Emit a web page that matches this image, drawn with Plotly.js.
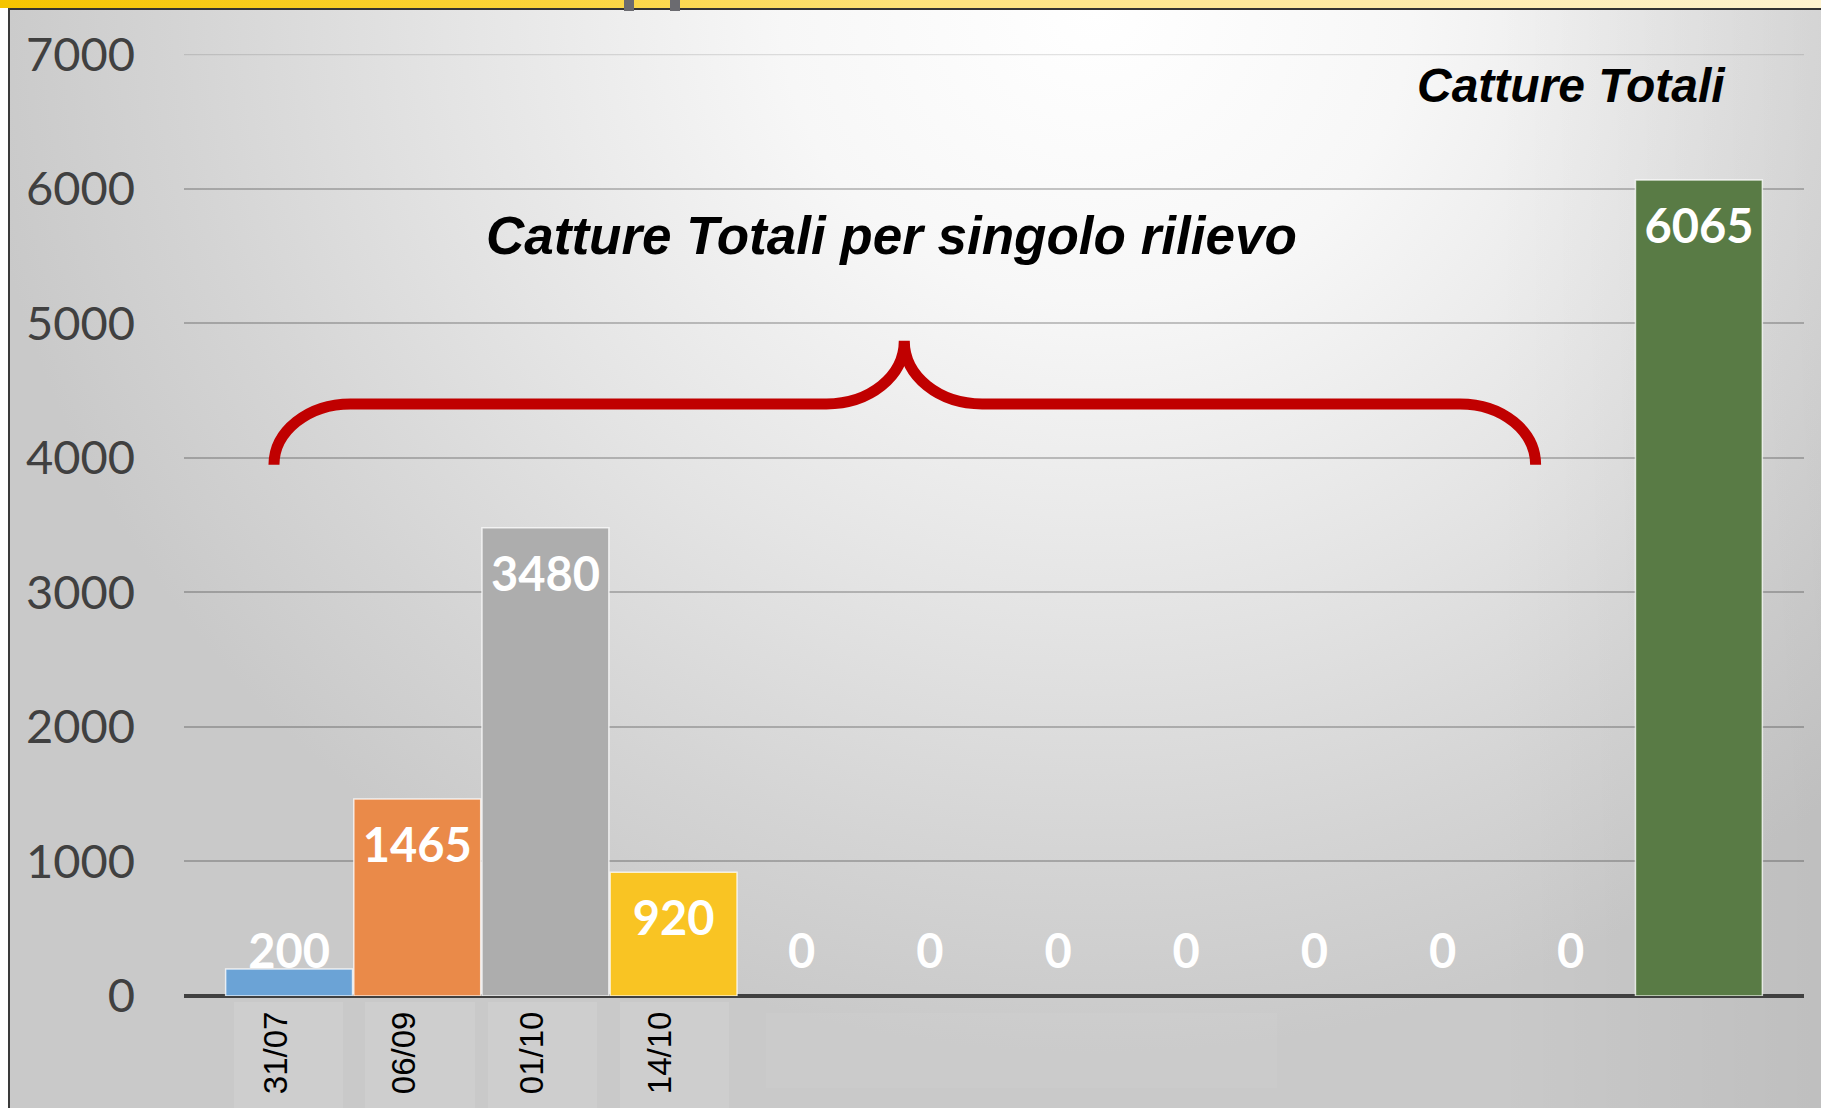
<!DOCTYPE html>
<html>
<head>
<meta charset="utf-8">
<script src="https://cdn.plot.ly/plotly-3.0.1.min.js"></script>
<style>
  html, body { margin: 0; padding: 0; background: #ffffff; }
  #wrap { position: relative; width: 1821px; height: 1108px; overflow: hidden; background: #ffffff; }
  #topbar { position: absolute; left: 0; top: 0; width: 1821px; height: 8px;
    background: linear-gradient(to right, #f5c400 0%, #fbd43a 30%, #fde27a 50%, #fdeaa6 75%, #fef3cf 100%); }
  #bg { position: absolute; left: 9px; top: 9px; width: 1812px; height: 1099px;
    background:
      linear-gradient(to right, rgba(0,0,0,0) 82%, rgba(0,0,0,0.05) 100%),
      radial-gradient(ellipse 62% 95% at 60% 0%, #ffffff 0%, #f7f7f7 28%, #e4e4e4 58%, #d4d4d4 82%, #c9c9c9 100%); }
  #topline { position: absolute; left: 8px; top: 8px; width: 1813px; height: 2px; background: #333333; }
  #leftline { position: absolute; left: 8px; top: 8px; width: 2px; height: 1100px; background: #3a3a3a; }
  .mark { position: absolute; top: 0; width: 10px; height: 11px; background: #6b6b70; }
  #chart { position: absolute; left: 0; top: 0; width: 1821px; height: 1108px; }
</style>
</head>
<body>
<div id="wrap">
  <div id="topbar"></div>
  <div id="bg"></div>
  <div id="topline"></div>
  <div id="leftline"></div>
  <div class="mark" style="left:624px"></div>
  <div class="mark" style="left:670px"></div>
  <div id="chart"></div>
</div>
<script>
// ---- data ----
var categories = ["31/07", "06/09", "01/10", "14/10", "r5", "r6", "r7", "r8", "r9", "r10", "r11", "Totale"];
var catture = [200, 1465, 3480, 920, 0, 0, 0, 0, 0, 0, 0, 6065];
var tickLabels = ["31/07", "06/09", "01/10", "14/10"];
var barColors = ["#6ba3d6", "#ea8a49", "#adadad", "#f9c423", "#cccccc", "#cccccc", "#cccccc", "#cccccc", "#cccccc", "#cccccc", "#cccccc", "#597b45"];
var titleSingolo = "Catture Totali per singolo rilievo";
var titleTotale = "Catture Totali";
var yTicks = [0, 1000, 2000, 3000, 4000, 5000, 6000, 7000];
var yMax = 7000;

// ---- derived ----
var xIdx = categories.map(function (c, i) { return i; });
var tickVals = tickLabels.map(function (t) { return categories.indexOf(t); });
var labelY = catture.map(function (v) { return Math.max(v - 382, 292); });
var labelText = catture.map(function (v) { return String(v); });
var lineW = catture.map(function (v) { return v > 0 ? 1.5 : 0; });

var bars = {
  type: "bar",
  x: xIdx,
  y: catture,
  width: 0.99,
  marker: { color: barColors, line: { color: "rgba(255,255,255,0.75)", width: lineW } },
  hoverinfo: "skip",
  showlegend: false
};

var labels = {
  type: "scatter",
  mode: "text",
  x: xIdx,
  y: labelY,
  text: labelText,
  textposition: "middle center",
  textfont: { family: "Lato, 'Open Sans', sans-serif", size: 47, color: "#ffffff", weight: "bold" },
  cliponaxis: false,
  hoverinfo: "skip",
  showlegend: false
};

// curly brace (decoration) in data coordinates
var bracePath = "M -0.118,3948 C -0.118,4198 0.149,4401 0.479,4401 " +
  "L 4.192,4401 C 4.528,4401 4.80,4604 4.80,4870 " +
  "C 4.80,4604 5.072,4401 5.408,4401 " +
  "L 9.137,4401 C 9.467,4401 9.726,4198 9.726,3948";

function px2paperX(px) { return (px - 184) / 1620; }
function px2paperY(py) { return (996 - py) / 941.6; }

function box(x0, x1, y0, y1, a) {
  return { type: "rect", xref: "paper", yref: "paper", layer: "below",
    x0: px2paperX(x0), x1: px2paperX(x1), y0: px2paperY(y0), y1: px2paperY(y1),
    fillcolor: "rgba(255,255,255," + a + ")", line: { width: 0 } };
}

var layout = {
  width: 1821,
  height: 1108,
  margin: { l: 184, r: 17, t: 54, b: 112, pad: 0 },
  paper_bgcolor: "rgba(0,0,0,0)",
  plot_bgcolor: "rgba(0,0,0,0)",
  bargap: 0.01,
  showlegend: false,
  xaxis: {
    type: "linear",
    range: [-0.82, 11.82],
    tickmode: "array",
    tickvals: tickVals,
    ticktext: tickLabels,
    tickangle: -90,
    ticks: "",
    ticklabelstandoff: 8,
    ticklabelshift: -13,
    tickfont: { family: "'Liberation Sans', Arial, sans-serif", size: 33, color: "#000000" },
    showgrid: false,
    zeroline: false,
    showline: false,
    fixedrange: true
  },
  yaxis: {
    range: [0, 7002],
    tickmode: "array",
    tickvals: yTicks,
    ticks: "",
    ticklabelstandoff: 48,
    tickfont: { family: "Lato, 'Open Sans', sans-serif", size: 47, color: "#404040" },
    showgrid: true,
    gridcolor: "rgba(0,0,0,0.22)",
    gridwidth: 2,
    zeroline: true,
    zerolinecolor: "#404040",
    zerolinewidth: 4,
    showline: false,
    fixedrange: true
  },
  shapes: [
    box(234, 343, 1002, 1108, 0.1),
    box(365, 475, 1002, 1108, 0.1),
    box(488, 597, 1002, 1108, 0.1),
    box(620, 729, 1002, 1108, 0.1),
    box(766, 1277, 1013, 1088, 0.04),
    { type: "line", xref: "paper", yref: "y", x0: 0, x1: 1, y0: yMax, y1: yMax, layer: "below",
      line: { color: "rgba(0,0,0,0.11)", width: 2 } },
    { type: "path", xref: "x", yref: "y", path: bracePath, layer: "above",
      line: { color: "#c00000", width: 11 }, fillcolor: "rgba(0,0,0,0)" }
  ],
  annotations: [
    { text: titleSingolo, xref: "paper", yref: "y", x: px2paperX(891), y: 5651,
      xanchor: "center", yanchor: "middle", showarrow: false,
      font: { family: "'Liberation Sans', Arial, sans-serif", size: 53, color: "#000000", weight: "bold", style: "italic" } },
    { text: titleTotale, xref: "paper", yref: "y", x: px2paperX(1571), y: 6766,
      xanchor: "center", yanchor: "middle", showarrow: false,
      font: { family: "'Liberation Sans', Arial, sans-serif", size: 48, color: "#000000", weight: "bold", style: "italic" } }
  ]
};

Plotly.newPlot("chart", [bars, labels], layout, { staticPlot: true, displayModeBar: false });
</script>
</body>
</html>
